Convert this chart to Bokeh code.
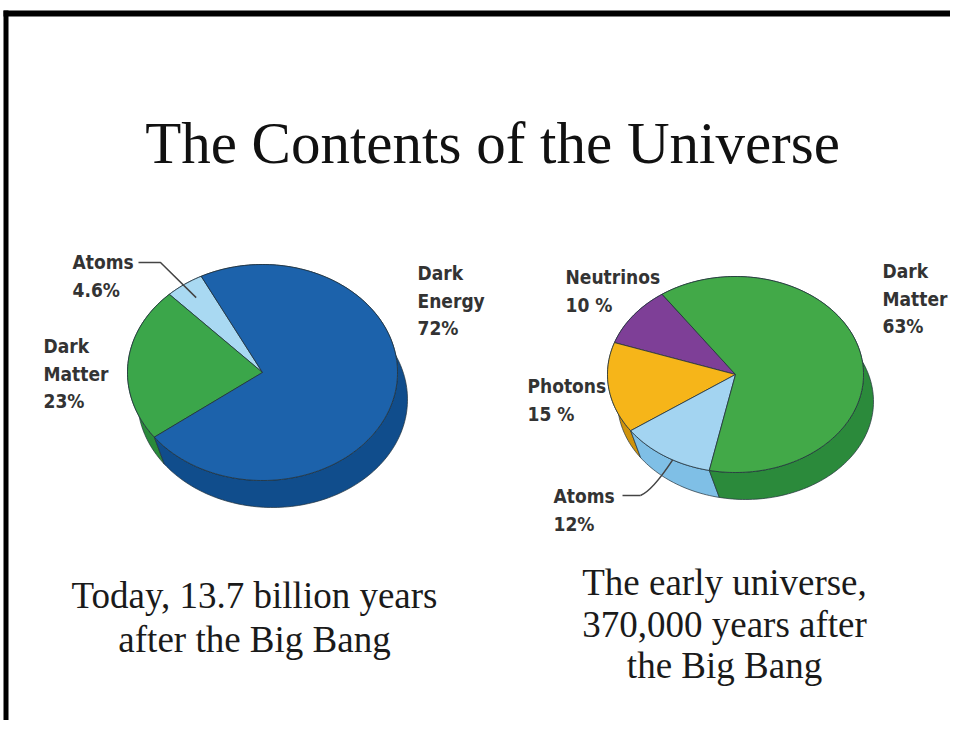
import numpy as np
from bokeh.plotting import figure
from bokeh.models import Range1d
from bokeh.core.properties import value
from bokeh.embed import file_html
from bokeh.resources import INLINE

# ---------------- data ----------------
title_text = "The Contents of the Universe"

today_names = ["Atoms", "Dark Matter", "Dark Energy"]
today_values = [4.6, 23.0, 72.0]
today_label_lines = [["Atoms", "4.6%"], ["Dark", "Matter", " 23%"], ["Dark", "Energy", "72%"]]
today_caption = ["Today, 13.7 billion years", "after the Big Bang"]

early_names = ["Neutrinos", "Photons", "Atoms", "Dark Matter"]
early_values = [10.0, 15.0, 12.0, 63.0]
early_label_lines = [["Neutrinos", "10 %"], ["Photons", "15 %"], ["Atoms", "12%"], ["Dark", "Matter", "63%"]]
early_caption = ["The early universe,", "370,000 years after", "the Big Bang"]

# ---------------- styles / layout ----------------
W, H = 950, 720
BASE_SHIFT = 0.34  # correction of the rendered alphabetic baseline, in em


def sx(x):  # screenshot x -> data x
    return x


def sy(y):  # screenshot y -> data y
    return H - y


def ty(y, size):  # baseline position in screenshot -> data y for text
    return sy(y - BASE_SHIFT * size)


today_top = ["#a9d9f2", "#3ba64a", "#1c62ab"]
today_side = ["#7fbde3", "#2a8a3a", "#104d8c"]
early_top = ["#7e3f97", "#f6b519", "#a3d4f1", "#42a948"]
early_side = ["#5e2c73", "#cf930c", "#7fbfe6", "#2b8a3b"]
outline = "#22323c"

pie1 = dict(cx=sx(262), cy=sy(372), a=135, b=108, dx=10, dy=-27, start=117)
pie2 = dict(cx=sx(735), cy=sy(374), a=128, b=98, dx=10, dy=-27, start=125)

today_label_pos = [(72, 268), (43, 352), (417, 279)]
early_label_pos = [(565, 283), (527, 392), (553, 502), (882, 277)]
label_step = 27.5
label_font = value("DejaVu Sans Condensed")
label_px = 19
label_color = "#333333"

title_px = 59
caption_px = 37

p = figure(width=W, height=H, output_backend="svg", toolbar_location=None,
           x_range=Range1d(0, W), y_range=Range1d(0, H), min_border=0)
p.axis.visible = False
p.grid.visible = False
p.outline_line_color = None
p.background_fill_color = "white"
p.border_fill_color = "white"

# slide frame (top and left edges)
p.quad(left=[3, 3], right=[W, 8], bottom=[sy(16), 0], top=[sy(10), sy(10)],
       fill_color="black", line_color=None)


def slice_angles(vals, start):
    tot = float(sum(vals))
    spans = [v / tot * 360.0 for v in vals]
    out, a0 = [], start
    for s in spans:
        out.append((a0, a0 + s))
        a0 += s
    return out


def arc(g, t1, t2, shift=False):
    n = max(int(abs(t2 - t1) / 1.5) + 2, 4)
    t = np.radians(np.linspace(t1, t2, n))
    x = g["cx"] + g["a"] * np.cos(t)
    y = g["cy"] + g["b"] * np.sin(t)
    if shift:
        x = x + g["dx"]
        y = y + g["dy"]
    return x, y


def draw_pie(g, vals, tops, sides):
    angs = slice_angles(vals, g["start"])
    # side walls
    xs, ys = [], []
    for (t1, t2) in angs:
        ax, ay = arc(g, t1, t2)
        bx, by = arc(g, t1, t2, shift=True)
        xs.append(list(ax) + list(bx[::-1]))
        ys.append(list(ay) + list(by[::-1]))
    p.patches(xs, ys, fill_color=sides, line_color=outline, line_width=1, line_alpha=0.7)
    # top faces
    xs, ys = [], []
    for (t1, t2) in angs:
        ax, ay = arc(g, t1, t2)
        xs.append([g["cx"]] + list(ax))
        ys.append([g["cy"]] + list(ay))
    p.patches(xs, ys, fill_color=tops, line_color=outline, line_width=1, line_alpha=0.8)
    return angs


angs1 = draw_pie(pie1, today_values, today_top, today_side)
angs2 = draw_pie(pie2, early_values, early_top, early_side)


def draw_labels(lines_list, pos_list):
    xs, ys, ts = [], [], []
    for lines, (x0, y0) in zip(lines_list, pos_list):
        for i, ln in enumerate(lines):
            xs.append(sx(x0))
            ys.append(ty(y0 + i * label_step, label_px))
            ts.append(ln)
    p.text(xs, ys, text=ts, text_font=label_font, text_font_style="bold",
           text_font_size=f"{label_px}px", text_color=label_color,
           text_align="left", text_baseline="alphabetic")


draw_labels(today_label_lines, today_label_pos)
draw_labels(early_label_lines, early_label_pos)


def point_on(g, ang, r):
    t = np.radians(ang)
    return g["cx"] + r * g["a"] * np.cos(t), g["cy"] + r * g["b"] * np.sin(t)


# leader line: pie 1 "Atoms"
i1 = today_names.index("Atoms")
m1 = 0.5 * (angs1[i1][0] + angs1[i1][1])
ex, ey = point_on(pie1, m1, 0.85)
p.line([sx(138), sx(160), ex], [sy(262), sy(262), ey], line_color="#444444", line_width=1.5)

# leader line: pie 2 "Atoms"
i2 = early_names.index("Atoms")
m2 = 0.5 * (angs2[i2][0] + angs2[i2][1])
ex2, ey2 = point_on(pie2, m2 + 4, 1.0)
p.line([sx(622), sx(640)], [sy(495), sy(495)], line_color="#444444", line_width=1.5)
p.quadratic(x0=[sx(640)], y0=[sy(495)], x1=[ex2], y1=[ey2], cx=[sx(652)], cy=[sy(490)],
            line_color="#444444", line_width=1.5)

# title
serif = value("Liberation Serif")
p.text([sx(492)], [ty(163, title_px)], text=[title_text], text_font=serif,
       text_font_size=f"{title_px}px", text_color="#111111",
       text_align="center", text_baseline="alphabetic")

# captions
p.text([sx(254)] * len(today_caption),
       [ty(608 + 44 * i, caption_px) for i in range(len(today_caption))],
       text=today_caption, text_font=serif, text_font_size=f"{caption_px}px",
       text_color="#1a1a1a", text_align="center", text_baseline="alphabetic")
p.text([sx(724)] * len(early_caption),
       [ty(595 + 41.5 * i, caption_px) for i in range(len(early_caption))],
       text=early_caption, text_font=serif, text_font_size=f"{caption_px}px",
       text_color="#1a1a1a", text_align="center", text_baseline="alphabetic")

open("out.html", "w").write(file_html(p, INLINE))
